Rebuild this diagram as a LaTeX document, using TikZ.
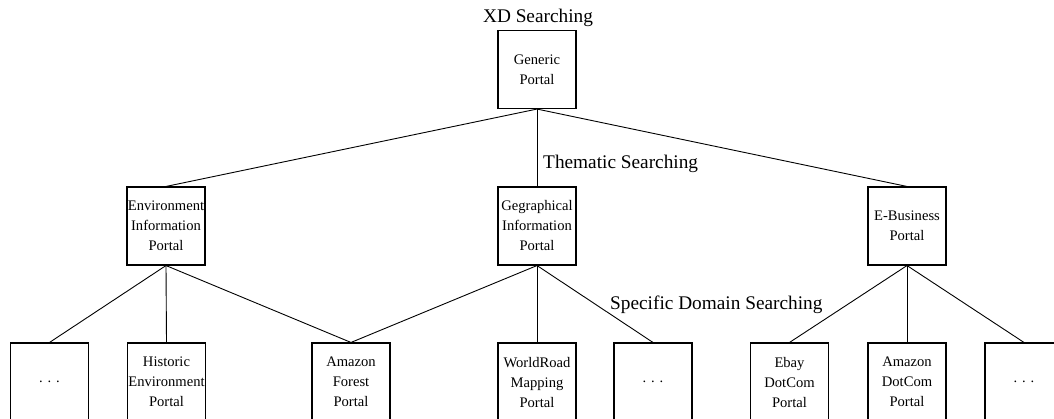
\documentclass[tikz,border=0pt]{standalone}
\usepackage{fontspec}
\setmainfont{Liberation Serif}
\begin{document}
\begin{tikzpicture}[x=1pt,y=-1pt,
  portal/.style={draw,line width=1.1pt,minimum width=78pt,minimum height=78pt,inner sep=0pt,align=center,font=\fontsize{14.6}{20}\selectfont},
  lbl/.style={inner sep=0pt,font=\fontsize{19.3}{23}\selectfont},
  conn/.style={line width=0.9pt}]
\useasboundingbox (0,0) rectangle (1054,418);
\clip (0,0) rectangle (1054,418);
\node[portal] (gp) at (537,69.5) {Generic\\Portal};
\node[portal] (env) at (166,226) {Environment\\Information\\Portal};
\node[portal] (geo) at (537,226) {Gegraphical\\Information\\Portal};
\node[portal] (eb) at (907,226) {E-Business\\Portal};
\node[portal] (b1) at (49.5,382) {. . .};
\node[portal] (b2) at (166.5,382) {Historic\\Environment\\Portal};
\node[portal] (b3) at (351,382) {Amazon\\Forest\\Portal};
\node[portal] (b4) at (537,382) {WorldRoad\\Mapping\\Portal};
\node[portal] (b5) at (653,382) {. . .};
\node[portal] (b6) at (789.5,382) {Ebay\\DotCom\\Portal};
\node[portal] (b7) at (907,382) {Amazon\\DotCom\\Portal};
\node[portal] (b8) at (1024,382) {. . .};
\node[lbl,anchor=base] (t1) at (538,22) {XD Searching};
\node[lbl,anchor=base west] (t2) at (543,168) {Thematic Searching};
\node[lbl,anchor=base west] (t3) at (610,309) {Specific Domain Searching};
\draw[conn] (gp.south) -- (env.north);
\draw[conn] (gp.south) -- (geo.north);
\draw[conn] (gp.south) -- (eb.north);
\draw[conn] (env.south) -- (b1.north);
\draw[conn] (env.south) -- (b2.north);
\draw[conn] (env.south) -- (b3.north);
\draw[conn] (geo.south) -- (b3.north);
\draw[conn] (geo.south) -- (b4.north);
\draw[conn] (geo.south) -- (b5.north);
\draw[conn] (eb.south) -- (b6.north);
\draw[conn] (eb.south) -- (b7.north);
\draw[conn] (eb.south) -- (b8.north);
\end{tikzpicture}
\end{document}
